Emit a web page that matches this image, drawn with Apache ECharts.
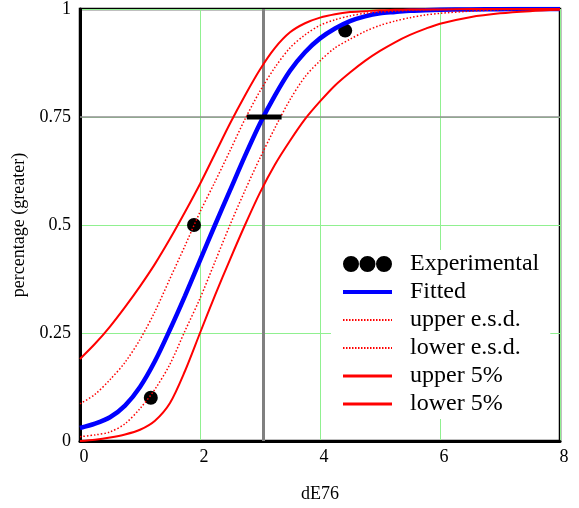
<!DOCTYPE html>
<html>
<head>
<meta charset="utf-8">
<script src="https://cdn.jsdelivr.net/npm/echarts@6/dist/echarts.min.js"></script>
<style>
  html, body { margin: 0; padding: 0; background: #fff; }
  #chart { width: 579px; height: 508px; }
</style>
</head>
<body>
<div id="chart"></div>
<script>
  const xs = [0, 0.25, 0.5, 0.75, 1, 1.25, 1.5, 1.75, 2, 2.25, 2.5, 2.75, 3, 3.25, 3.5, 3.75,
    4, 4.25, 4.5, 4.75, 5, 5.25, 5.5, 5.75, 6, 6.5, 7, 7.5, 8];

  const fitted = [0.030, 0.040, 0.055, 0.082, 0.125, 0.185, 0.258, 0.336, 0.418, 0.500, 0.580, 0.660,
    0.735, 0.800, 0.857, 0.900, 0.932, 0.955, 0.972, 0.983, 0.990, 0.993, 0.996, 0.997, 0.998,
    0.999, 0.9995, 1, 1];
  const upperEsd = [0.086, 0.108, 0.142, 0.182, 0.235, 0.300, 0.376, 0.452, 0.530, 0.600, 0.672, 0.745,
    0.810, 0.865, 0.910, 0.940, 0.962, 0.975, 0.984, 0.990, 0.993, 0.995, 0.997, 0.998, 0.999,
    0.9995, 1, 1, 1];
  const lowerEsd = [0.010, 0.014, 0.021, 0.040, 0.075, 0.120, 0.178, 0.255, 0.330, 0.415, 0.500, 0.580,
    0.655, 0.725, 0.790, 0.843, 0.880, 0.910, 0.930, 0.948, 0.962, 0.972, 0.980, 0.986, 0.990,
    0.995, 0.998, 0.999, 1];
  const upper5 = [0.190, 0.225, 0.265, 0.310, 0.358, 0.410, 0.468, 0.530, 0.595, 0.665, 0.735, 0.800,
    0.860, 0.910, 0.946, 0.967, 0.980, 0.988, 0.993, 0.995, 0.997, 0.998, 0.999, 0.999, 0.999,
    1, 1, 1, 1];
  const lower5 = [0.000, 0.003, 0.008, 0.015, 0.026, 0.047, 0.088, 0.162, 0.250, 0.337, 0.420, 0.500,
    0.575, 0.640, 0.695, 0.745, 0.786, 0.823, 0.853, 0.880, 0.903, 0.923, 0.940, 0.954, 0.966,
    0.981, 0.990, 0.995, 0.998];

  // experimental points
  const expX = [1.18, 1.9, 4.42];
  const expY = [0.1, 0.5, 0.95];

  // reference lines and the error bar at 75%
  const refX = 3.05;
  const refY = 0.75;
  const barX = [2.78, 3.36];

  const legendNames = ['Experimental', 'Fitted', 'upper e.s.d.', 'lower e.s.d.', 'upper 5%', 'lower 5%'];

  const font = 'Liberation Serif';
  const pairs = (arr) => xs.map((x, i) => [x, arr[i]]);

  // three dots icon for the legend
  const dotsIcon = 'path://M0,8a8,8 0 1,0 16,0a8,8 0 1,0 -16,0Z' +
    'M16.5,8a8,8 0 1,0 16,0a8,8 0 1,0 -16,0Z' +
    'M33,8a8,8 0 1,0 16,0a8,8 0 1,0 -16,0Z';

  function curve(name, data, color, width, type) {
    return {
      name: name,
      type: 'line',
      data: pairs(data),
      symbol: 'none',
      smooth: 0.3,
      z: 3,
      lineStyle: { color: color, width: width, type: type },
      itemStyle: { color: color }
    };
  }

  const option = {
    animation: false,
    backgroundColor: '#fff',
    grid: {
      left: 80, right: 19, top: 6, bottom: 66,
      show: true,
      borderColor: '#000',
      borderWidth: 2.5
    },
    legend: {
      data: [
        { name: legendNames[0], icon: dotsIcon, itemStyle: { opacity: 1, color: '#000' } },
        { name: legendNames[1], lineStyle: { width: 4 } },
        { name: legendNames[2], lineStyle: { width: 2, type: [1.5, 1.5] } },
        { name: legendNames[3], lineStyle: { width: 2, type: [1.5, 1.5] } },
        { name: legendNames[4], lineStyle: { width: 3 } },
        { name: legendNames[5], lineStyle: { width: 3 } }
      ],
      orient: 'vertical',
      left: 331,
      top: 250,
      padding: [2, 11, 3, 10],
      itemGap: 4,
      itemWidth: 49,
      itemHeight: 16,
      backgroundColor: '#fff',
      itemStyle: { opacity: 0 },
      textStyle: {
        fontFamily: font,
        fontSize: 24,
        color: '#000',
        padding: [0, 0, 0, 13]
      }
    },
    xAxis: {
      type: 'value',
      min: 0,
      max: 8,
      interval: 2,
      name: 'dE76',
      nameLocation: 'middle',
      nameGap: 44,
      nameTextStyle: { fontFamily: font, fontSize: 18, color: '#000' },
      axisLine: { show: true, lineStyle: { color: '#000', width: 3 } },
      axisTick: { show: false },
      axisLabel: { fontFamily: font, fontSize: 18, color: '#000', margin: 7, padding: [0, 0, 0, 8] },
      splitLine: { show: true, lineStyle: { color: '#90f090', width: 1 } }
    },
    yAxis: {
      type: 'value',
      min: 0,
      max: 1,
      interval: 0.25,
      name: 'percentage (greater)',
      nameLocation: 'middle',
      nameGap: 47,
      nameTextStyle: { fontFamily: font, fontSize: 18, color: '#000' },
      axisLine: { show: true, lineStyle: { color: '#000', width: 3 } },
      axisTick: { show: false },
      axisLabel: { fontFamily: font, fontSize: 18, color: '#000', margin: 9 },
      splitLine: { show: true, lineStyle: { color: '#90f090', width: 1 } }
    },
    series: [
      {
        name: 'Experimental',
        type: 'scatter',
        data: expX.map((x, i) => [x, expY[i]]),
        symbol: 'circle',
        symbolSize: 14,
        z: 2,
        itemStyle: { color: '#000', opacity: 1 }
      },
      curve('Fitted', fitted, '#0000ff', 4.5, 'solid'),
      curve('upper e.s.d.', upperEsd, '#ff0000', 1.5, [1.5, 2]),
      curve('lower e.s.d.', lowerEsd, '#ff0000', 1.5, [1.5, 2]),
      curve('upper 5%', upper5, '#ff0000', 2, 'solid'),
      curve('lower 5%', lower5, '#ff0000', 2, 'solid'),
      {
        name: 'ref',
        type: 'line',
        data: [],
        markLine: {
          silent: true,
          symbol: 'none',
          z: 1,
          label: { show: false },
          data: [
            { xAxis: refX, lineStyle: { color: '#808080', width: 3, type: 'solid' } },
            { yAxis: refY, lineStyle: { color: '#909090', width: 1.5, type: 'solid' } }
          ]
        }
      },
      {
        name: 'bar75',
        type: 'line',
        data: barX.map((x) => [x, refY]),
        symbol: 'none',
        z: 6,
        lineStyle: { color: '#000', width: 5 }
      }
    ]
  };

  const myChart = echarts.init(document.getElementById('chart'));
  myChart.setOption(option);
</script>
</body>
</html>
